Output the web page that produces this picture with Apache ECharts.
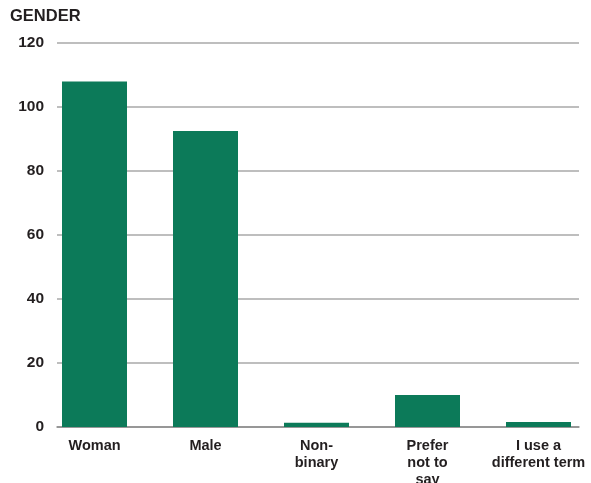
<!DOCTYPE html>
<html>
<head>
<meta charset="utf-8">
<script src="https://cdn.jsdelivr.net/npm/echarts@6/dist/echarts.min.js"></script>
<style>
  html, body { margin: 0; padding: 0; background: #ffffff; }
  #chart { width: 591px; height: 483px; }
</style>
</head>
<body>
<div id="chart"></div>
<script>
// Survey responses by gender
const categories = ['Woman', 'Male', 'Non-\nbinary', 'Prefer\nnot to\nsay', 'I use a\ndifferent term'];
const counts = [108, 92.5, 1.3, 10, 1.6];
const yTicks = { min: 0, max: 120, step: 20 };

const chart = echarts.init(document.getElementById('chart'), null, { renderer: 'canvas' });

const font = '"Liberation Sans", Arial, Helvetica, sans-serif';
const ink = '#231f20';

chart.setOption({
  animation: false,
  backgroundColor: '#ffffff',
  title: {
    text: 'GENDER',
    left: 10,
    top: 8,
    padding: 0,
    textStyle: { fontFamily: font, fontSize: 16.5, fontWeight: 'bold', color: ink }
  },
  grid: [
    // value grid: y labels, gridlines and baseline
    { left: 57, right: 12, top: 43, bottom: 56, outerBoundsMode: 'none', containLabel: false },
    // bar grid: category bands
    { left: 39, width: 555, top: 43, bottom: 56, outerBoundsMode: 'none', containLabel: false }
  ],
  xAxis: [
    {
      gridIndex: 0,
      type: 'value',
      min: 0, max: 1,
      axisLine: { show: true, onZero: false, lineStyle: { color: '#8a8a8a', width: 1.5 } },
      axisTick: { show: false },
      axisLabel: { show: false },
      splitLine: { show: false }
    },
    {
      gridIndex: 1,
      type: 'category',
      data: categories,
      axisLine: { show: false },
      axisTick: { show: false },
      axisLabel: {
        interval: 0,
        margin: 11,
        fontFamily: font,
        fontSize: 14.5,
        fontWeight: 'bold',
        lineHeight: 16.7,
        color: ink,
        align: 'center'
      }
    }
  ],
  yAxis: [
    {
      gridIndex: 0,
      type: 'value',
      min: yTicks.min, max: yTicks.max, interval: yTicks.step,
      axisLine: { show: false },
      axisTick: { show: false },
      axisLabel: { margin: 13, fontFamily: font, fontSize: 15.5, fontWeight: 'bold', color: ink },
      splitLine: { show: true, lineStyle: { color: '#a8a8a8', width: 1.5 } }
    },
    {
      gridIndex: 1,
      type: 'value',
      min: yTicks.min, max: yTicks.max, interval: yTicks.step,
      show: false,
      splitLine: { show: false }
    }
  ],
  series: [
    {
      type: 'bar',
      xAxisIndex: 1,
      yAxisIndex: 1,
      data: counts,
      barWidth: 65,
      itemStyle: { color: '#0c7a59' },
      z: 3
    }
  ]
});
</script>
</body>
</html>
